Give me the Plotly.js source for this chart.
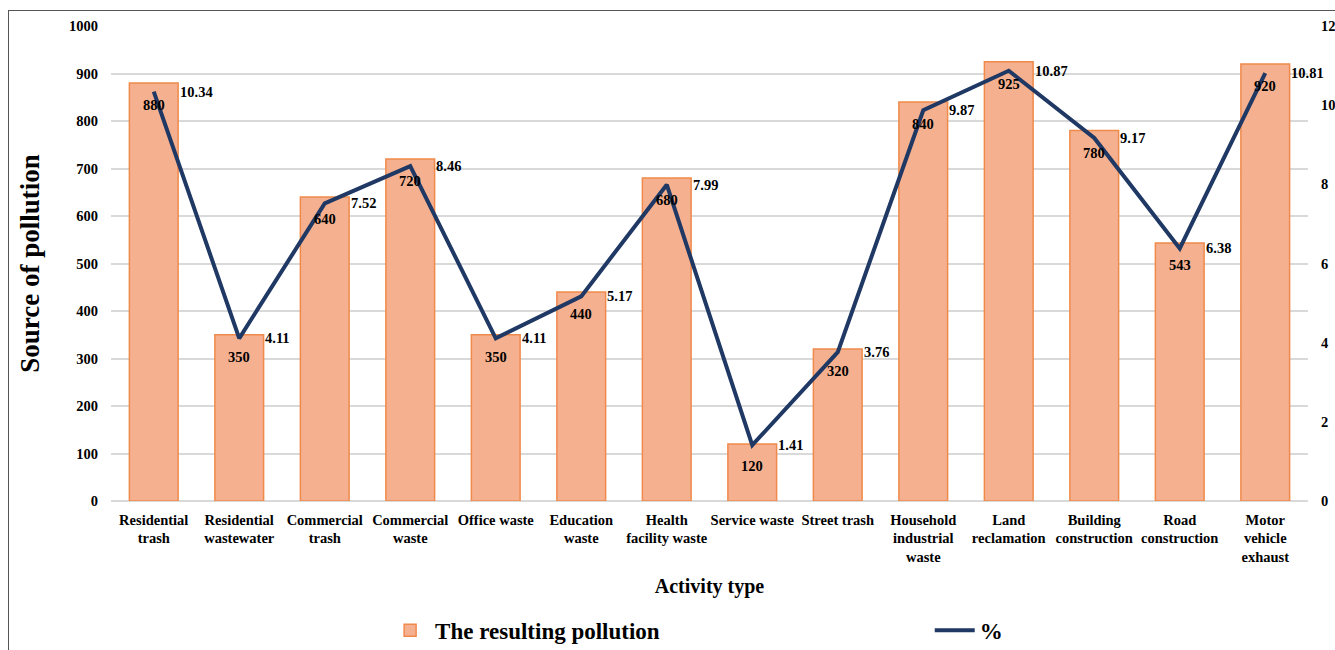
<!DOCTYPE html>
<html><head><meta charset="utf-8">
<script src="https://cdn.plot.ly/plotly-3.0.1.min.js"></script>
<style>
body{margin:0;background:#fff;overflow:hidden;}
#chart{width:1335px;height:650px;}
#frame{position:absolute;left:8px;top:10px;width:1400px;height:700px;border:1px solid #555;pointer-events:none;}
</style></head>
<body>
<div id="chart"></div><div id="frame"></div>
<script>
const categories = ["Residential<br>trash","Residential<br>wastewater","Commercial<br>trash","Commercial<br>waste","Office waste","Education<br>waste","Health<br>facility waste","Service waste","Street trash","Household<br>industrial<br>waste","Land<br>reclamation","Building<br>construction","Road<br>construction","Motor<br>vehicle<br>exhaust"];
const pollution = [880,350,640,720,350,440,680,120,320,840,925,780,543,920];
const percent = [10.34,4.11,7.52,8.46,4.11,5.17,7.99,1.41,3.76,9.87,10.87,9.17,6.38,10.81];
const leftTicks = [0,100,200,300,400,500,600,700,800,900,1000];
const rightTicks = [0,2,4,6,8,10,12];

const serif = "Liberation Serif";
const tickFont = {family: serif, size: 14.5, color: "#000", weight: 700};

const barTrace = {
  type: "bar", x: categories, y: pollution, name: "The resulting pollution",
  marker: {color: "#F5B090", line: {color: "#F08A4B", width: 1.5}},
  hoverinfo: "x+y", legend: "legend"
};
const lineTrace = {
  type: "scatter", mode: "lines", x: categories, y: percent, yaxis: "y2", name: "%",
  line: {color: "#1F3864", width: 4}, legend: "legend2"
};

const annotations = [];
categories.forEach((c, i) => {
  annotations.push({x: c, y: pollution[i], xref: "x", yref: "y", text: String(pollution[i]),
    showarrow: false, yshift: -22, yanchor: "middle", font: tickFont});
  annotations.push({x: c, y: percent[i], xref: "x", yref: "y2", text: percent[i].toFixed(2),
    showarrow: false, xshift: 24, xanchor: "left", yanchor: "middle", font: tickFont});
});

const legendFont = {family: serif, size: 23, weight: 700, color: "#000"};
const layout = {
  width: 1335, height: 650,
  margin: {l: 111, r: 27, t: 26, b: 149, autoexpand: false},
  paper_bgcolor: "rgba(0,0,0,0)", plot_bgcolor: "rgba(0,0,0,0)",
  bargap: 0.43,
  font: {family: serif, color: "#000"},
  xaxis: {
    type: "category", range: [-0.5, categories.length - 0.5], autorange: false,
    tickfont: tickFont, tickangle: 0, showgrid: false, zeroline: false, showline: false, ticks: "", automargin: false,
    ticklabelstandoff: 8,
    title: {text: "Activity type", font: {family: serif, size: 20, weight: 700, color: "#000"}, standoff: 14}
  },
  yaxis: {
    range: [0, 1000], tickvals: leftTicks, tickfont: tickFont, automargin: false,
    showgrid: true, gridcolor: "#D9D9D9", gridwidth: 1.5, zeroline: true, zerolinecolor: "#D9D9D9", zerolinewidth: 1.5,
    ticks: "", ticklabelstandoff: 12,
    title: {text: "Source of pollution", font: {family: serif, size: 27, weight: 700, color: "#000"}, standoff: 21}
  },
  yaxis2: {
    range: [0, 12], tickvals: rightTicks, overlaying: "y", side: "right", automargin: false,
    showgrid: false, zeroline: false, tickfont: tickFont, ticks: "", ticklabelstandoff: 12
  },
  legend: {
    orientation: "h", x: 0.229, xanchor: "left", y: -0.272, yanchor: "middle",
    font: legendFont, itemwidth: 40
  },
  legend2: {
    orientation: "h", x: 0.684, xanchor: "left", y: -0.272, yanchor: "middle",
    font: legendFont, itemwidth: 40
  },
  annotations: annotations,
  showlegend: true
};

Plotly.newPlot("chart", [barTrace, lineTrace], layout, {displayModeBar: false, responsive: false});
</script>
</body></html>
